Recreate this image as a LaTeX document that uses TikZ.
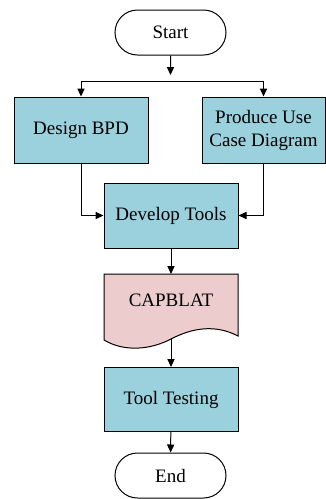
\documentclass[tikz,border=0pt]{standalone}
\usepackage{fontspec}
\setmainfont{Liberation Serif}
\usetikzlibrary{arrows.meta,shapes.misc}
\definecolor{procblue}{RGB}{155,208,221}
\definecolor{docpink}{RGB}{236,204,204}
\begin{document}
\begin{tikzpicture}[x=0.5pt,y=-0.5pt,
                font=\fontsize{9.5}{11.5}\selectfont,
                line width=0.5pt,
                >={Triangle[length=4pt,width=3.6pt]},
                term/.style={draw,rounded rectangle,minimum width=55.5pt,minimum height=22.5pt,inner sep=0pt},
                proc/.style={draw,fill=procblue,minimum width=67pt,minimum height=33pt,inner sep=1pt,align=center}]
                \useasboundingbox (0,0) rectangle (326,499);

                \node(start) [term] at (170.5,32.5) {Start};
                \node(bpd) [proc] at (81,130) {Design BPD};
                \node(pcd) [proc,minimum width=61.5pt] at (263.5,130) {Produce Use\\Case Diagram};
                \node(dev) [proc,minimum height=32.5pt] at (171,215.5) {Develop Tools};
                \draw[fill=docpink] (104,274) -- (238,274) -- (238,336) .. controls (215,324) and (192,328) .. (171,339) .. controls (150,350) and (124,352) .. (104,340) -- cycle;
                \node(cap) at (171,300) {CAPBLAT};
                \coordinate(capt) at (171,274);
                \coordinate(capb) at (171,339);
                \node(test) [proc,minimum height=32pt] at (171,399.5) {Tool Testing};
                \node(end) [term] at (170.5,475.5) {End};
                \coordinate(fork) at (170.5,81);

                \draw[->,shorten >=3pt] (start) -- (fork);
                \draw[->] (fork) -| (bpd.north);
                \draw[->] (fork) -| (pcd.north);
                \draw[->] (bpd.south) |- (dev.west);
                \draw[->] (pcd.south) |- (dev.east);
                \draw[->] (dev.south) -- (capt);
                \draw[->] (capb) -- (test);
                \draw[->] (test) -- (end);
			\end{tikzpicture}
\end{document}
